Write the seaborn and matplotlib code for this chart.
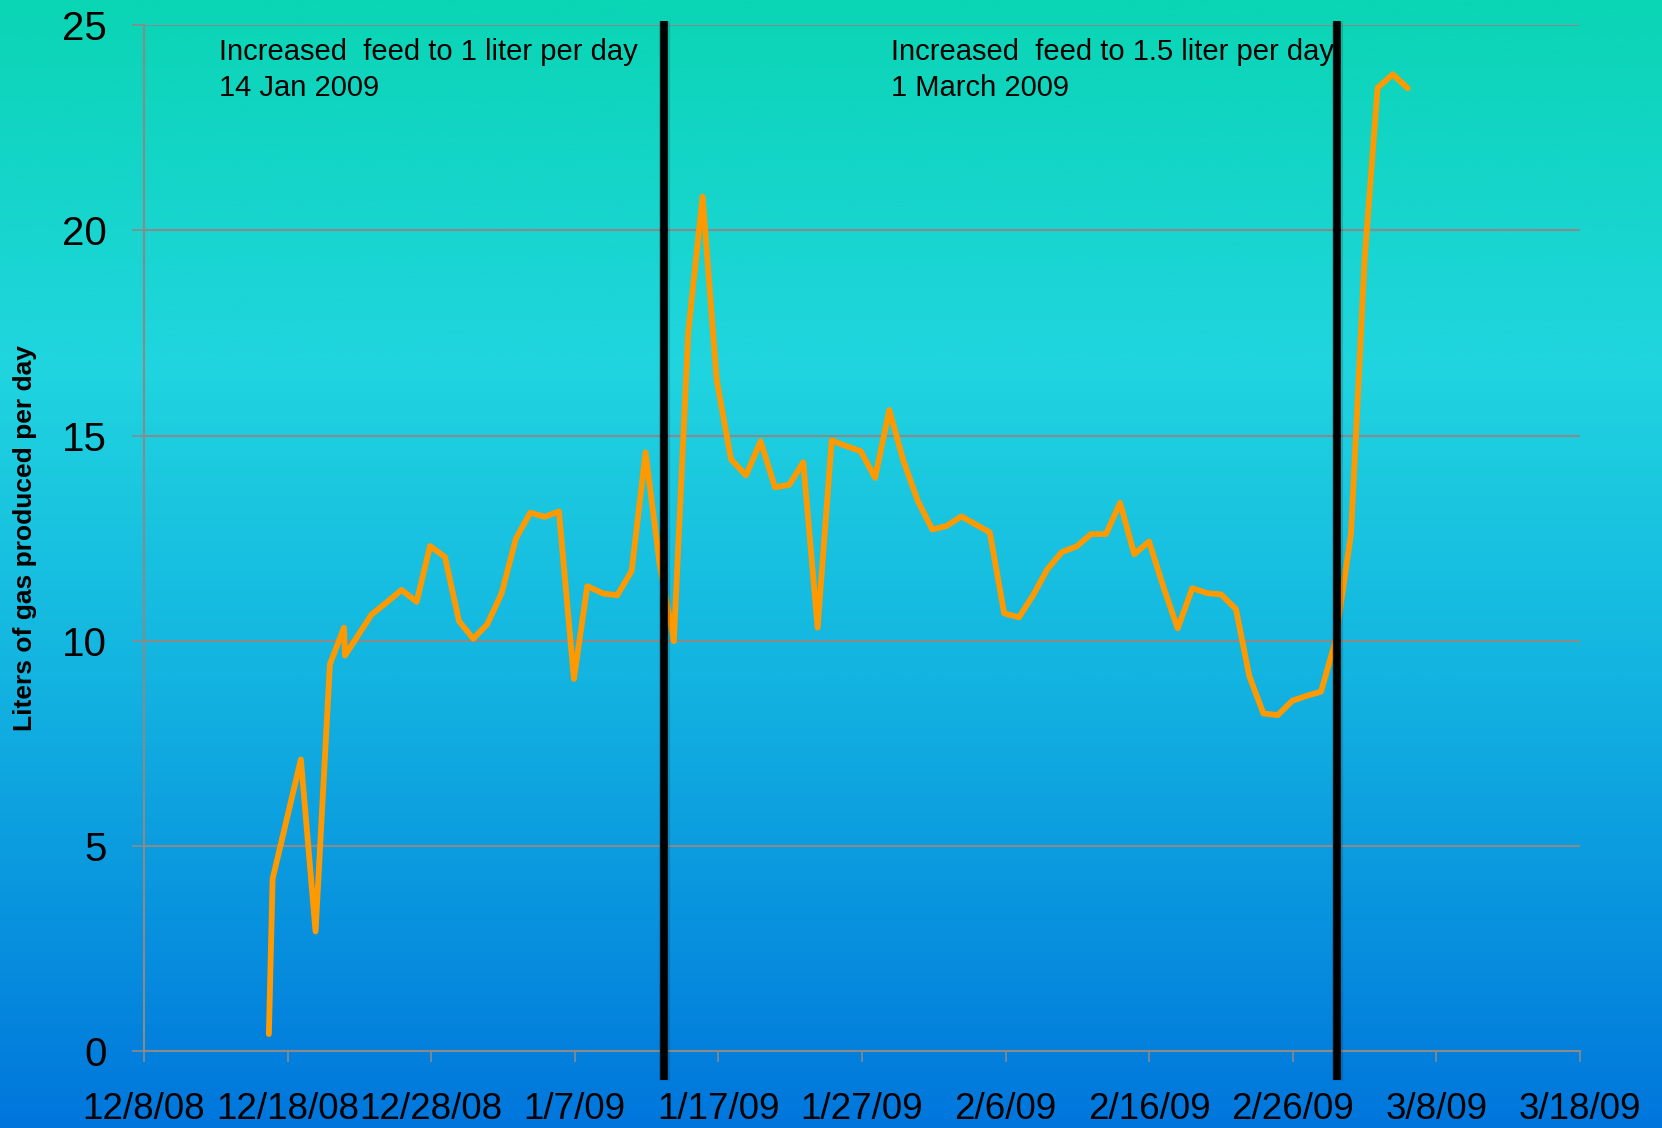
import numpy as np
import pandas as pd
import matplotlib
matplotlib.use("Agg")
import matplotlib.pyplot as plt
import matplotlib.patheffects as pe
from matplotlib.colors import LinearSegmentedColormap
import seaborn as sns

# Daily biogas readings, as days after the start date
start_date = "2008-12-08"
day_offsets = [
    8.7, 8.96, 10.93, 11.95, 12.95, 13.93, 14.0, 15.85, 16.85, 17.94,
    18.99, 19.92, 20.96, 21.94, 22.93, 23.9, 24.9, 25.9, 26.9, 27.9,
    28.9, 29.94, 30.87, 31.99, 32.96, 33.96, 34.93, 35.9, 36.9, 37.9,
    38.9, 39.88, 40.88, 41.92, 42.94, 43.94, 44.94, 45.91, 46.91, 47.89,
    48.93, 49.91, 50.91, 51.9, 52.88, 53.88, 54.9, 55.9, 56.92, 58.9,
    59.9, 60.93, 61.93, 62.9, 63.91, 64.95, 65.95, 66.99, 67.97, 68.96,
    69.99, 70.98, 71.98, 73.0, 74.05, 75.0, 76.04, 76.97, 77.95, 78.95,
    79.97, 80.97, 81.96, 82.97, 84.05, 85.0, 85.9, 86.96, 88.0,
]
gas_liters = [
    0.42, 4.2, 7.11, 2.92, 9.43, 10.32, 9.64, 10.64, 10.92, 11.24,
    10.95, 12.31, 12.04, 10.48, 10.05, 10.4, 11.15, 12.49, 13.12, 13.02,
    13.15, 9.07, 11.33, 11.15, 11.11, 11.7, 14.59, 11.9, 9.99, 17.51,
    20.82, 16.36, 14.42, 14.03, 14.86, 13.74, 13.80, 14.35, 10.32, 14.88,
    14.74, 14.62, 13.97, 15.62, 14.39, 13.41, 12.71, 12.80, 13.03, 12.64,
    10.67, 10.57, 11.12, 11.74, 12.16, 12.30, 12.60, 12.60, 13.36, 12.11,
    12.42, 11.32, 10.30, 11.28, 11.16, 11.13, 10.77, 9.14, 8.23, 8.19,
    8.54, 8.66, 8.76, 10.0, 12.6, 19.3, 23.47, 23.8, 23.46,
]

# Feed changes marked with vertical bars
feed_change_days = [36.2, 83.05]
feed_notes = [
    "Increased  feed to 1 liter per day\n14 Jan 2009",
    "Increased  feed to 1.5 liter per day\n1 March 2009",
]
note_x = [0.0522, 0.5205]

y_ticks = [0, 5, 10, 15, 20, 25]
x_span_days = 100
x_tick_step = "10D"

sns.set_style("ticks")
plt.rcParams["font.family"] = ["Liberation Sans", "DejaVu Sans"]

fig = plt.figure(figsize=(16.62, 11.28), dpi=100)

# Vertical gradient backdrop
bg = fig.add_axes([0, 0, 1, 1], zorder=0)
grad = np.linspace(0, 1, 600)[:, None]
cmap = LinearSegmentedColormap.from_list(
    "backdrop",
    [(0.0, "#0AD5B4"), (0.32, "#20D5DF"), (0.6, "#13B4E1"), (1.0, "#0076DC")],
)
bg.imshow(grad, aspect="auto", cmap=cmap, extent=[0, 1, 0, 1], origin="upper")
bg.axis("off")

ax = fig.add_axes([0.0866, 0.068, 0.8641, 0.9098], zorder=1)
ax.patch.set_alpha(0)

start = pd.Timestamp(start_date)
df = pd.DataFrame({
    "date": start + pd.to_timedelta(day_offsets, unit="D"),
    "gas": gas_liters,
})
sns.lineplot(data=df, x="date", y="gas", ax=ax, color="#FF9900", lw=4.2,
             estimator=None, sort=False, zorder=3,
             solid_joinstyle="round", solid_capstyle="round")

ticks = pd.date_range(start, periods=11, freq=x_tick_step)
ax.set_xlim(start, start + pd.Timedelta(days=x_span_days))
ax.set_xticks(ticks)
ax.set_xticklabels([f"{t.month}/{t.day}/{t:%y}" for t in ticks])
ax.set_ylim(0, 25)
ax.set_yticks(y_ticks)
ax.set_xlabel("")
ax.set_ylabel("")

grid_color = "#8A8A8A"
ax.grid(axis="y", color=grid_color, lw=1.5)
ax.grid(axis="x", visible=False)
for side in ("top", "right"):
    ax.spines[side].set_visible(False)
for side in ("left", "bottom"):
    ax.spines[side].set_color(grid_color)
    ax.spines[side].set_linewidth(1.5)
ax.tick_params(axis="y", length=8.6, width=1.2, color=grid_color,
               labelsize=29, pad=18, labelcolor="black")
ax.tick_params(axis="x", length=8, width=1.2, color=grid_color,
               labelsize=26.5, pad=21, labelcolor="black")

for d in feed_change_days:
    ax.axvline(start + pd.Timedelta(days=d), ymin=-0.028, ymax=1.004,
               color="black", lw=5.5, clip_on=False, zorder=5,
               solid_capstyle="butt",
               path_effects=[pe.Stroke(linewidth=8, foreground=(0, 0, 0, 0.15)),
                             pe.Normal()])

for x, note in zip(note_x, feed_notes):
    ax.text(x, 0.987, note, transform=ax.transAxes, fontsize=21,
            ha="left", va="top", color="black", linespacing=1.36, zorder=6)

fig.text(25 / 1662, 1 - 538 / 1128, "Liters of gas produced per day",
         rotation=90, ha="center", va="center", fontsize=19,
         fontweight="bold", color="black")

fig.savefig("out.png", dpi=100)
